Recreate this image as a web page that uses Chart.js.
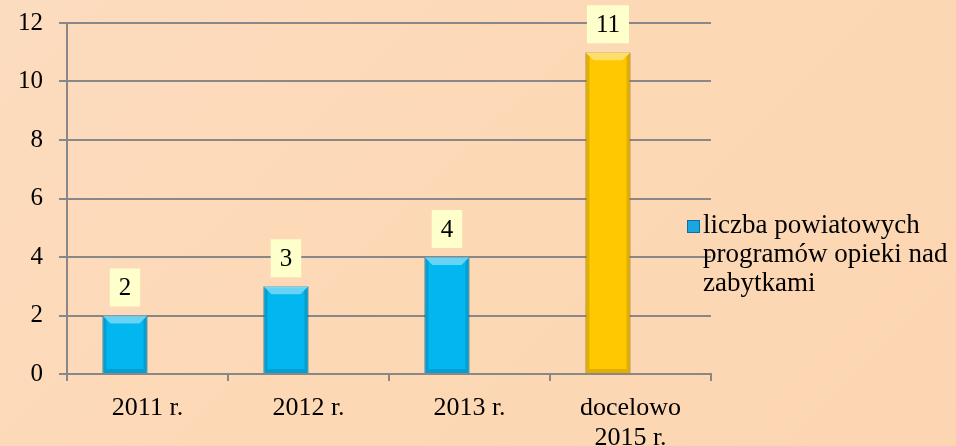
<!DOCTYPE html>
<html>
<head>
<meta charset="utf-8">
<script src="https://cdn.jsdelivr.net/npm/chart.js@4.4.0/dist/chart.umd.min.js"></script>
<style>
  html, body { margin:0; padding:0; }
  body { width:956px; height:446px; overflow:hidden;
    background: linear-gradient(135deg, #fcdcbf 0%, #fdd8b5 50%, #fcd6b2 100%); }
  #wrap { position:relative; width:956px; height:446px; }
  #legenda { position:absolute; left:686px; top:210px; width:270px;
    font-family:"Liberation Serif","Times New Roman",serif; font-size:27px; line-height:29px; color:#000; }
  #legenda .znak { position:absolute; left:1px; top:10px; width:11px; height:11px;
    background:#1aa6e0; border:1px solid #0b6f9f; }
  #legenda .tekst { margin-left:17px; }
</style>
</head>
<body>
<div id="wrap">
  <canvas id="wykres" width="956" height="446"></canvas>
  <div id="legenda"><span class="znak"></span><div class="tekst">liczba powiatowych programów opieki nad zabytkami</div></div>
</div>
<script>
const kategorie = ['2011 r.', '2012 r.', '2013 r.', ['docelowo', '2015 r.']];
const wartosci = [2, 3, 4, 11];
const kolory = ['#02b6ef', '#02b6ef', '#02b6ef', '#ffc800'];
const obramowania = ['#0a7fae', '#0a7fae', '#0a7fae', '#c08e00'];
const puste = [null, null, null, null];
const nazwaSerii = 'liczba powiatowych programów opieki nad zabytkami';

const czcionka = '"Liberation Serif", "Times New Roman", serif';

// etykiety z wartosciami na jasnozoltym tle
const etykiety = {
  id: 'etykiety',
  afterDatasetsDraw(chart) {
    const ctx = chart.ctx;
    const meta = chart.getDatasetMeta(0);
    ctx.save();
    ctx.font = '25px ' + czcionka;
    ctx.textAlign = 'center';
    ctx.textBaseline = 'middle';
    meta.data.forEach((bar, i) => {
      const txt = String(wartosci[i]);
      const w = ctx.measureText(txt).width + 18;
      const h = 38;
      const cy = bar.y - 9 - h / 2;
      ctx.fillStyle = '#ffffcc';
      ctx.fillRect(bar.x - w / 2, cy - h / 2, w, h);
      ctx.fillStyle = '#000';
      ctx.fillText(txt, bar.x, cy + 1);
    });
    ctx.restore();
  }
};

// lekki efekt faz na slupkach
const fazy = {
  id: 'fazy',
  afterDatasetsDraw(chart) {
    const ctx = chart.ctx;
    const meta = chart.getDatasetMeta(0);
    ctx.save();
    meta.data.forEach((bar) => {
      const l = bar.x - bar.width / 2, r = bar.x + bar.width / 2;
      const t = bar.y, b = bar.base;
      ctx.fillStyle = 'rgba(255,255,255,0.4)';
      ctx.beginPath();
      ctx.moveTo(l, t); ctx.lineTo(r, t); ctx.lineTo(r - 8, t + 8); ctx.lineTo(l + 8, t + 8);
      ctx.closePath(); ctx.fill();
      ctx.fillStyle = 'rgba(0,0,0,0.12)';
      ctx.beginPath();
      ctx.moveTo(l, t); ctx.lineTo(l + 4, t + 4); ctx.lineTo(l + 4, b - 4); ctx.lineTo(l, b);
      ctx.closePath(); ctx.fill();
      ctx.beginPath();
      ctx.moveTo(r, t); ctx.lineTo(r - 4, t + 4); ctx.lineTo(r - 4, b - 4); ctx.lineTo(r, b);
      ctx.closePath(); ctx.fill();
      ctx.beginPath();
      ctx.moveTo(l, b); ctx.lineTo(r, b); ctx.lineTo(r - 4, b - 4); ctx.lineTo(l + 4, b - 4);
      ctx.closePath(); ctx.fill();
    });
    ctx.restore();
  }
};

new Chart(document.getElementById('wykres'), {
  type: 'bar',
  data: {
    labels: kategorie,
    datasets: [{
      label: nazwaSerii,
      data: wartosci,
      backgroundColor: kolory,
      borderColor: obramowania,
      borderWidth: 1,
      categoryPercentage: 0.56,
      barPercentage: 1
    }, {
      label: '',
      data: puste,
      categoryPercentage: 0.56,
      barPercentage: 1
    }]
  },
  options: {
    responsive: false,
    animation: false,
    layout: { padding: { top: 0, right: 245, left: 0, bottom: 0 } },
    plugins: {
      legend: { display: false },
      tooltip: { enabled: false }
    },
    scales: {
      y: {
        min: 0, max: 12,
        afterFit(s) { s.width = 67; s.paddingTop = 23; },
        ticks: { stepSize: 2, color: '#000', font: { family: czcionka, size: 25 }, padding: 16 },
        grid: { color: '#888', lineWidth: 2, tickLength: 8 },
        border: { color: '#888', width: 2 }
      },
      x: {
        afterFit(s) { s.height = 72; },
        ticks: { color: '#000', font: { family: czcionka, size: 26, lineHeight: 1.15 }, padding: 12, maxRotation: 0 },
        grid: { offset: true, drawOnChartArea: false, color: '#888', lineWidth: 2, tickLength: 7 },
        border: { color: '#888', width: 2 }
      }
    }
  },
  plugins: [fazy, etykiety]
});
</script>
</body>
</html>
